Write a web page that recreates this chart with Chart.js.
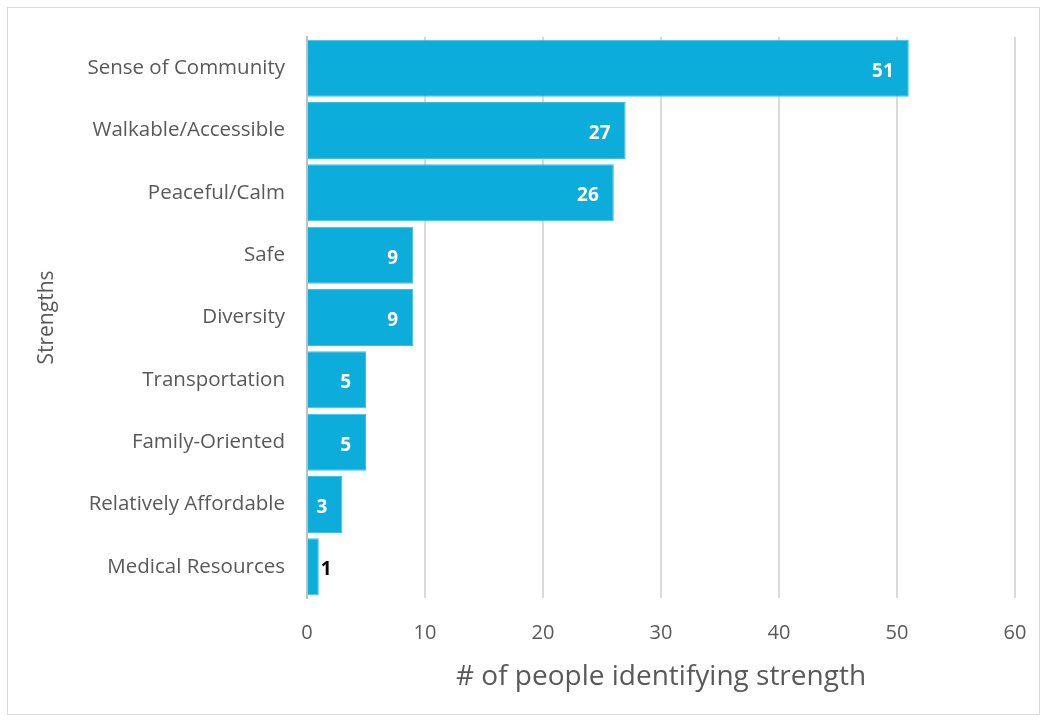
<!DOCTYPE html>
<html>
<head>
<meta charset="utf-8">
<script src="https://cdn.jsdelivr.net/npm/chart.js@4/dist/chart.umd.min.js"></script>
<style>
  html, body { margin: 0; padding: 0; background: #fff; }
  #wrap { position: absolute; left: 0; top: 0; width: 1043px; height: 721px; }
  #frame { position: absolute; left: 7px; top: 7px; width: 1031px; height: 706px; border: 1.5px solid #d9d9d9; pointer-events: none; }
</style>
</head>
<body>
<div id="wrap">
  <canvas id="chart1" width="1043" height="721"></canvas>
  <div id="frame"></div>
</div>
<script>
const categories = ['Sense of Community', 'Walkable/Accessible', 'Peaceful/Calm', 'Safe', 'Diversity',
  'Transportation', 'Family-Oriented', 'Relatively Affordable', 'Medical Resources'];
const counts = [51, 27, 26, 9, 9, 5, 5, 3, 1];
const xTicks = [0, 10, 20, 30, 40, 50, 60];

const FONT = '"Open Sans", sans-serif';

// value labels at the inner end of each bar; short bars get a dark label just outside
const barLabels = {
  id: 'barLabels',
  afterDatasetsDraw(chart) {
    const ctx = chart.ctx;
    const meta = chart.getDatasetMeta(0);
    ctx.save();
    ctx.font = 'bold 19px ' + FONT;
    ctx.textBaseline = 'middle';
    meta.data.forEach((bar, i) => {
      const txt = String(counts[i]);
      const w = ctx.measureText(txt).width;
      const len = bar.x - bar.base;
      if (len > w + 20) {
        ctx.fillStyle = '#ffffff';
        ctx.textAlign = 'right';
        ctx.fillText(txt, bar.x - 15, bar.y + 3);
      } else {
        ctx.fillStyle = '#000000';
        ctx.textAlign = 'left';
        ctx.fillText(txt, bar.x + 2, bar.y + 3);
      }
    });
    ctx.restore();
  }
};

new Chart(document.getElementById('chart1').getContext('2d'), {
  type: 'bar',
  data: {
    labels: categories,
    datasets: [{
      data: counts,
      backgroundColor: '#0cadda',
      borderColor: '#3dc0e6',
      borderWidth: 1,
      barPercentage: 1,
      categoryPercentage: 0.915
    }]
  },
  options: {
    indexAxis: 'y',
    responsive: false,
    animation: false,
    layout: { padding: { top: 37, right: 28, left: 0, bottom: 0 } },
    plugins: { legend: { display: false }, tooltip: { enabled: false } },
    scales: {
      x: {
        min: 0,
        max: 60,
        afterBuildTicks: (axis) => { axis.ticks = xTicks.map(v => ({ value: v })); },
        afterFit: (axis) => {
          axis.height = 123;
          axis.paddingLeft = 0;
          axis.paddingRight = 0;
        },
        grid: { color: '#d9d9d9', lineWidth: 2, drawTicks: false },
        border: { display: false },
        ticks: { color: '#595959', font: { family: FONT, size: 20 }, padding: 23 },
        title: {
          display: true,
          text: '# of people identifying strength',
          color: '#595959',
          font: { family: FONT, size: 28 },
          padding: { top: 10, bottom: 27 }
        }
      },
      y: {
        afterFit: (axis) => { axis.width = 307; },
        grid: { display: false, drawTicks: false },
        border: { display: true, color: '#bfbfbf', width: 2 },
        ticks: { color: '#595959', font: { family: FONT, size: 20.5 }, padding: 22 },
        title: {
          display: true,
          text: 'Strengths',
          color: '#595959',
          font: { family: FONT, size: 21 },
          padding: { top: 34, bottom: 0 }
        }
      }
    }
  },
  plugins: [barLabels]
});
</script>
</body>
</html>
